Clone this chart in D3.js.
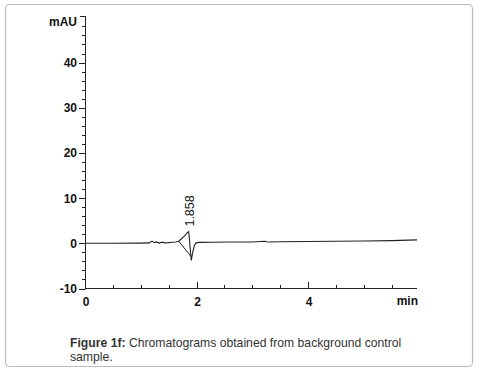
<!DOCTYPE html>
<html>
<head>
<meta charset="utf-8">
<script src="https://cdn.jsdelivr.net/npm/d3@7"></script>
<style>
body{margin:0;background:#fff}
text{font-family:"Liberation Sans",Arial,sans-serif}
</style>
</head>
<body>
<svg id="chart" width="479" height="374"></svg>
<script>
// retention time (min) and detector signal (mAU)
var times  = [0, 0.5, 1.0, 1.15, 1.2, 1.24, 1.28, 1.33, 1.38, 1.43, 1.5, 1.56, 1.62, 1.68, 1.72, 1.78, 1.83, 1.858, 1.87, 1.89, 1.905, 1.93, 1.96, 1.99, 2.05, 2.3, 2.6, 3.0, 3.22, 3.26, 3.3, 3.5, 4.0, 4.5, 5.0, 5.5, 5.95]
var signal = [0, 0, 0.05, 0.1, 0.5, 0.15, 0.3, 0.05, 0.25, 0.1, 0.15, 0.25, 0.3, 0.45, 0.9, 1.6, 2.3, 2.6, 1.2, -1.8, -3.8, -2.0, -0.5, 0.1, 0.2, 0.25, 0.3, 0.3, 0.45, 0.35, 0.3, 0.35, 0.4, 0.45, 0.5, 0.6, 0.75]
// integration baseline drawn under the peak
var baseT = [1.68, 1.9]
var baseV = [0.45, -2.9]
var peakTime = 1.858
var peakLabel = '1.858'
var yTicks = [-10, 0, 10, 20, 30, 40]
var xTicks = [0, 2, 4]

var svg = d3.select('#chart')

svg.append('rect')
	.attr('x', 5.5).attr('y', 4.5)
	.attr('width', 467).attr('height', 362)
	.attr('rx', 4)
	.style('fill', 'none')
	.style('stroke', '#bbb')
	.style('stroke-width', 1.2)

var x = d3.scaleLinear().domain([0, 5.95]).range([85, 417])
var y = d3.scaleLinear().domain([-10, 50.3]).range([288.5, 16])

var g = svg.append('g').style('stroke', '#222').style('fill', 'none')

// y axis
g.append('line').attr('x1', 85.5).attr('x2', 85.5).attr('y1', y(50.3)).attr('y2', y(-10))
g.append('line').attr('x1', 80).attr('x2', 85.5).attr('y1', y(50.3)+0.5).attr('y2', y(50.3)+0.5)
d3.range(-10, 49, 2).forEach(function(v){
	var major = v % 10 == 0
	g.append('line')
		.attr('x1', major ? 79 : 82).attr('x2', 85.5)
		.attr('y1', Math.round(y(v))+0.5).attr('y2', Math.round(y(v))+0.5)
})
svg.selectAll('text.ylab').data(yTicks).enter().append('text')
	.attr('class', 'ylab')
	.attr('x', 77).attr('y', d=>y(d)+4.5)
	.attr('text-anchor', 'end')
	.style('font-size', '12px').style('font-weight', 'bold').style('fill', '#111')
	.text(d=>d)
svg.append('text').attr('x', 77).attr('y', 26)
	.attr('text-anchor', 'end')
	.style('font-size', '12px').style('font-weight', 'bold').style('fill', '#111')
	.text('mAU')

// x axis
g.append('line').attr('x1', 85).attr('x2', x(5.95)).attr('y1', 288.5).attr('y2', 288.5)
d3.range(0, 5.9, 0.5).forEach(function(t){
	var major = t % 2 == 0
	g.append('line')
		.attr('x1', Math.round(x(t))+0.5).attr('x2', Math.round(x(t))+0.5)
		.attr('y1', 288.5).attr('y2', major ? 282 : 285)
})
svg.selectAll('text.xlab').data(xTicks).enter().append('text')
	.attr('class', 'xlab')
	.attr('x', d=>x(d)+1).attr('y', 306)
	.attr('text-anchor', 'middle')
	.style('font-size', '12px').style('font-weight', 'bold').style('fill', '#111')
	.text(d=>d)
svg.append('text').attr('x', 418).attr('y', 305)
	.attr('text-anchor', 'end')
	.style('font-size', '12px').style('font-weight', 'bold').style('fill', '#111')
	.text('min')

// trace
var line = d3.line().x(d=>x(d[0])).y(d=>y(d[1]))
g.append('path')
	.attr('d', line(d3.zip(times, signal)))
	.style('stroke-width', 1.1)
g.append('path')
	.attr('d', line(d3.zip(baseT, baseV)))
	.style('stroke-width', 1)

// peak label
var py = y(signal[times.indexOf(peakTime)]) - 5
svg.append('text')
	.attr('transform', 'translate(' + (x(peakTime)+5) + ',' + py + ') rotate(-90)')
	.style('font-size', '12.5px').style('fill', '#111')
	.text(peakLabel)

// caption
var cap = svg.append('text').attr('x', 70).attr('y', 347)
	.style('font-size', '12.2px').style('fill', '#333')
cap.append('tspan').style('font-weight', 'bold').text('Figure 1f:')
cap.append('tspan').text(' Chromatograms obtained from background control')
svg.append('text').attr('x', 70).attr('y', 361)
	.style('font-size', '12.2px').style('fill', '#333')
	.text('sample.')
</script>
</body>
</html>
